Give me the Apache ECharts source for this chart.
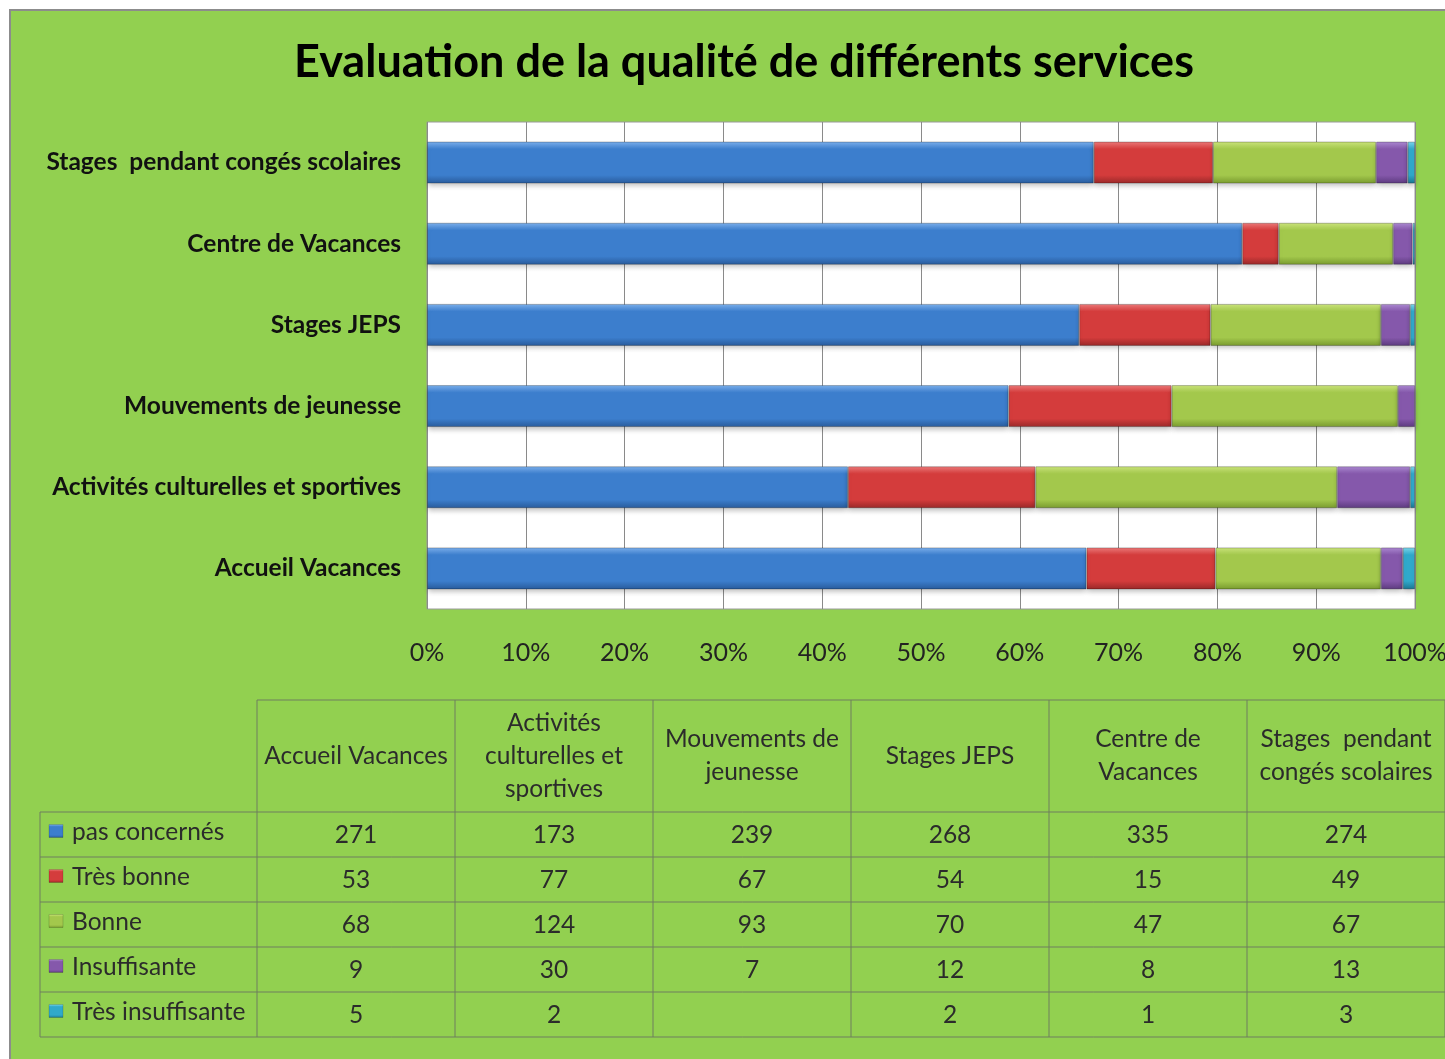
<!DOCTYPE html>
<html>
<head>
<meta charset="utf-8">
<script src="https://cdn.jsdelivr.net/npm/echarts@6/dist/echarts.min.js"></script>
<style>
    html, body { margin: 0; padding: 0; background: #fff; }
    #chart { width: 1445px; height: 1059px; }
</style>
</head>
<body>
<div id="chart"></div>
<script>
    // catégories (ordre du tableau, de bas en haut dans le graphique)
    const categories = [
        'Accueil Vacances',
        'Activités culturelles et sportives',
        'Mouvements de jeunesse',
        'Stages JEPS',
        'Centre de Vacances',
        'Stages  pendant congés scolaires'
    ]
    // en-têtes du tableau (retours à la ligne comme sur l'original)
    const tableHeaders = [
        'Accueil Vacances',
        'Activités\nculturelles et\nsportives',
        'Mouvements de\njeunesse',
        'Stages JEPS',
        'Centre de\nVacances',
        'Stages  pendant\ncongés scolaires'
    ]
    const seriesNames = ['pas concernés', 'Très bonne', 'Bonne', 'Insuffisante', 'Très insuffisante']

    const pasConcernes = [271, 173, 239, 268, 335, 274]
    const tresBonne = [53, 77, 67, 54, 15, 49]
    const bonne = [68, 124, 93, 70, 47, 67]
    const insuffisante = [9, 30, 7, 12, 8, 13]
    const tresInsuffisante = [5, 2, null, 2, 1, 3]

    const xTicks = [0, 0.1, 0.2, 0.3, 0.4, 0.5, 0.6, 0.7, 0.8, 0.9, 1]

    const allSeries = [pasConcernes, tresBonne, bonne, insuffisante, tresInsuffisante]

    // couleurs "biseau" : clair, normal, sombre
    const palette = [
        ['#7DB2EE', '#3C7ECD', '#285A9A'],
        ['#EE7B7B', '#D43C3C', '#982828'],
        ['#CDE67C', '#A3C84C', '#789A2E'],
        ['#AE8AD4', '#8558AB', '#5C3A7E'],
        ['#7DD8EE', '#30A9CB', '#1B7590']
    ]

    const font = 'Lato, "Open Sans", sans-serif'

    function bevel(c) {
        return new echarts.graphic.LinearGradient(0, 0, 0, 1, [
            { offset: 0, color: c[0] },
            { offset: 0.18, color: c[1] },
            { offset: 0.8, color: c[1] },
            { offset: 1, color: c[2] }
        ])
    }

    // total par catégorie -> part en pourcentage (barres 100 %)
    const totals = categories.map((c, i) =>
        allSeries.reduce((s, arr) => s + (arr[i] || 0), 0)
    )

    let myChart = echarts.init(document.getElementById('chart'))

    // ---- tableau de données sous le graphique ----
    const tLeft = 40
    const colX0 = 257
    const colW = 198
    const headTop = 700
    const headBottom = 812
    const rowH = 45
    const tRight = colX0 + colW * categories.length
    const tBottom = headBottom + rowH * seriesNames.length
    const lineColor = '#6f7f5f'
    const cellFont = '24.5px ' + font

    const graphics = []

    // fond vert + cadre
    graphics.push({
        type: 'rect',
        z: -100,
        shape: { x: 10, y: 10, width: 1460, height: 1080 },
        style: { fill: '#92D050', stroke: '#8c8c8c', lineWidth: 2 }
    })

    // titre
    graphics.push({
        type: 'text',
        x: 744,
        y: 62,
        style: {
            text: 'Evaluation de la qualité de différents services',
            font: 'bold 45px ' + font,
            fill: '#000',
            align: 'center',
            verticalAlign: 'middle'
        }
    })

    function hLine(x1, x2, y) {
        graphics.push({
            type: 'line',
            shape: { x1: x1, y1: y, x2: x2, y2: y },
            style: { stroke: lineColor, lineWidth: 1 }
        })
    }
    function vLine(x, y1, y2) {
        graphics.push({
            type: 'line',
            shape: { x1: x, y1: y1, x2: x, y2: y2 },
            style: { stroke: lineColor, lineWidth: 1 }
        })
    }

    hLine(colX0, tRight, headTop)
    for (let r = 0; r <= seriesNames.length; r++) {
        hLine(tLeft, tRight, headBottom + r * rowH)
    }
    vLine(tLeft, headBottom, tBottom)
    for (let c = 0; c <= categories.length; c++) {
        vLine(colX0 + c * colW, headTop, tBottom)
    }

    tableHeaders.forEach((h, c) => {
        graphics.push({
            type: 'text',
            x: colX0 + c * colW + colW / 2,
            y: (headTop + headBottom) / 2,
            style: {
                text: h,
                font: cellFont,
                fill: '#2b2b2b',
                align: 'center',
                verticalAlign: 'middle',
                lineHeight: 33
            }
        })
    })

    seriesNames.forEach((name, r) => {
        const cy = headBottom + r * rowH + rowH / 2
        graphics.push({
            type: 'rect',
            shape: { x: 49, y: cy - 10, width: 14, height: 13 },
            style: { fill: bevel(palette[r]), stroke: 'rgba(0,0,0,0.3)', lineWidth: 0.5 }
        })
        graphics.push({
            type: 'text',
            x: 72,
            y: cy - 2,
            style: {
                text: name,
                font: cellFont,
                fill: '#2b2b2b',
                align: 'left',
                verticalAlign: 'middle'
            }
        })
        allSeries[r].forEach((v, c) => {
            graphics.push({
                type: 'text',
                x: colX0 + c * colW + colW / 2,
                y: cy + 1,
                style: {
                    text: v == null ? '' : String(v),
                    font: cellFont,
                    fill: '#2b2b2b',
                    align: 'center',
                    verticalAlign: 'middle'
                }
            })
        })
    })

    const option = {
        backgroundColor: '#ffffff',
        animation: false,
        grid: {
            show: true,
            left: 427,
            top: 122,
            width: 988,
            height: 487,
            backgroundColor: '#ffffff',
            borderColor: '#9a9a9a',
            borderWidth: 1,
            containLabel: false,
            outerBoundsMode: 'none'
        },
        xAxis: {
            type: 'value',
            min: 0,
            max: 1,
            interval: 0.1,
            axisLabel: {
                margin: 31,
                fontSize: 25,
                fontFamily: font,
                color: '#222',
                formatter: v => {
                    const t = xTicks.find(x => Math.abs(x - v) < 1e-6)
                    return Math.round((t == null ? v : t) * 100) + '%'
                }
            },
            axisLine: { show: false },
            axisTick: { show: false },
            splitLine: { show: true, lineStyle: { color: '#8a8a8a', width: 1 } }
        },
        yAxis: {
            type: 'category',
            data: categories,
            axisLabel: {
                margin: 26,
                fontSize: 24.5,
                fontWeight: 'bold',
                fontFamily: font,
                color: '#111'
            },
            axisLine: { show: false },
            axisTick: { show: false },
            splitLine: { show: false }
        },
        graphic: graphics,
        series: allSeries.map((arr, k) => ({
            name: seriesNames[k],
            type: 'bar',
            stack: 'total',
            barWidth: 42,
            data: arr.map((v, i) => (v == null ? null : v / totals[i])),
            itemStyle: {
                color: bevel(palette[k]),
                borderColor: 'rgba(0,0,0,0.25)',
                borderWidth: 1,
                shadowColor: 'rgba(0,0,0,0.25)',
                shadowBlur: 5,
                shadowOffsetY: 3
            }
        }))
    }

    myChart.setOption(option)
</script>
</body>
</html>
